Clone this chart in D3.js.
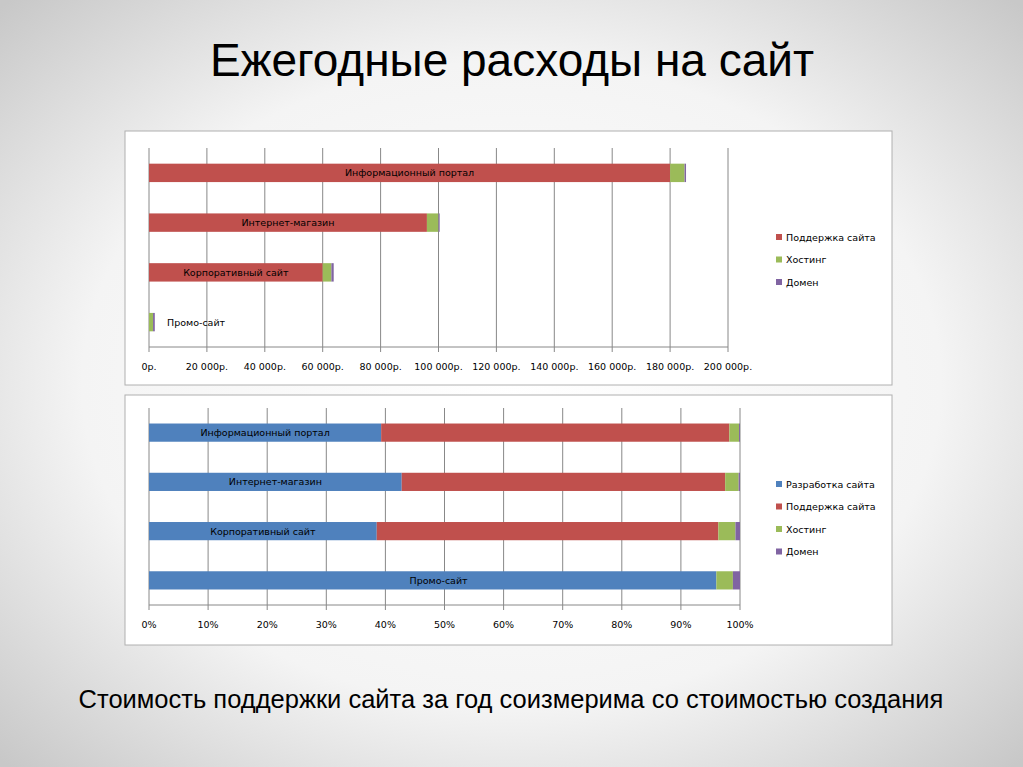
<!DOCTYPE html>
<html><head><meta charset="utf-8">
<script src="https://cdn.jsdelivr.net/npm/d3@7"></script>
<style>body{margin:0;}</style></head><body>
<script>
const categories = ["Информационный портал","Интернет-магазин","Корпоративный сайт","Промо-сайт"];
const development = [120000, 75000, 40000, 48000];
const support = [180000, 96000, 60000, 0];
const hosting = [5000, 4000, 3000, 1400];
const domain = [500, 400, 800, 600];
const topTicks = [0,20000,40000,60000,80000,100000,120000,140000,160000,180000,200000];
const pctTicks = [0,0.1,0.2,0.3,0.4,0.5,0.6,0.7,0.8,0.9,1];
const colors = {dev:"#4f81bd", sup:"#c0504d", host:"#9bbb59", dom:"#8064a2"};

const W=1023,H=767;
const svg=d3.select("body").append("svg").attr("width",W).attr("height",H);
const defs=svg.append("defs");
const rg=defs.append("radialGradient").attr("id","bg").attr("cx","50%").attr("cy","50%").attr("r","70%");
rg.append("stop").attr("offset","0%").attr("stop-color","#ffffff");
rg.append("stop").attr("offset","60%").attr("stop-color","#f4f4f4");
rg.append("stop").attr("offset","100%").attr("stop-color","#c8c8c8");
svg.append("rect").attr("width",W).attr("height",H).attr("fill","url(#bg)");
const F="'Liberation Sans', Arial, sans-serif";
svg.append("text").attr("x",512).attr("y",76).attr("text-anchor","middle").attr("font-family",F).attr("font-size",46).attr("fill","#000").text("Ежегодные расходы на сайт");
svg.append("text").attr("x",511).attr("y",708).attr("text-anchor","middle").attr("font-family",F).attr("font-size",25.5).attr("fill","#000").text("Стоимость поддержки сайта за год соизмерима со стоимостью создания");
const LF="'DejaVu Sans', sans-serif";

function chart(box, x, y0, y1, series, fmtTick, ticks, labelFn, legend){
  const g=svg.append("g");
  g.append("rect").attr("x",box[0]).attr("y",box[1]).attr("width",box[2]).attr("height",box[3]).attr("fill","#fff").attr("stroke","#b0b0b0");
  const y=d3.scaleBand().domain(categories).range([y0,y1]).paddingInner(0.63).paddingOuter(0.315);
  ticks.forEach(t=>{
    g.append("line").attr("x1",x(t)).attr("x2",x(t)).attr("y1",y0).attr("y2",y1+5).attr("stroke","#888").attr("stroke-width",1);
    g.append("text").attr("x",x(t)).attr("y",y1+23).attr("text-anchor","middle").attr("font-family",LF).attr("font-size",9.5).attr("fill","#000").text(fmtTick(t));
  });
  g.append("line").attr("x1",x(ticks[0])).attr("x2",x(ticks[ticks.length-1])).attr("y1",y1).attr("y2",y1).attr("stroke","#888");
  categories.forEach((c,i)=>{
    let acc=0;
    series.forEach(s=>{
      const v=s.vals[i];
      g.append("rect").attr("x",x(acc)).attr("y",y(c)).attr("width",Math.max(0,x(acc+v)-x(acc))).attr("height",y.bandwidth()).attr("fill",s.color);
      acc+=v;
    });
    const L=labelFn(i);
    g.append("text").attr("x",L[0]).attr("y",y(c)+y.bandwidth()/2+3.5).attr("text-anchor",L[1]).attr("font-family",LF).attr("font-size",9.5).attr("fill","#000").text(c);
  });
  legend.items.forEach((s,k)=>{
    const ly=legend.y+k*legend.step;
    g.append("rect").attr("x",776).attr("y",ly-3).attr("width",6).attr("height",6).attr("fill",s.color);
    g.append("text").attr("x",786).attr("y",ly+3.5).attr("font-family",LF).attr("font-size",9.5).attr("fill","#000").text(s.name);
  });
}

const x1=d3.scaleLinear().domain([0,200000]).range([149,728]);
const fmtR=t=>t===0?"0р.":d3.format(",")(t).replace(",","\u00a0")+"р.";
const s1=[{name:"Поддержка сайта",vals:support,color:colors.sup},{name:"Хостинг",vals:hosting,color:colors.host},{name:"Домен",vals:domain,color:colors.dom}];
chart([125,131,767,254],x1,148,347,s1,fmtR,topTicks,
  i=> i===3 ? [167,"start"] : [x1(support[i]/2),"middle"],
  {items:s1,y:237,step:22.5});

const totals=categories.map((c,i)=>development[i]+support[i]+hosting[i]+domain[i]);
const pct=a=>a.map((v,i)=>v/totals[i]);
const x2=d3.scaleLinear().domain([0,1]).range([149,740]);
const s2=[{name:"Разработка сайта",vals:pct(development),color:colors.dev},{name:"Поддержка сайта",vals:pct(support),color:colors.sup},{name:"Хостинг",vals:pct(hosting),color:colors.host},{name:"Домен",vals:pct(domain),color:colors.dom}];
chart([125,395,767,250],x2,408,605,s2,d3.format(".0%"),pctTicks,
  i=> i===3 ? [x2(0.49),"middle"] : [x2(development[i]/totals[i]/2),"middle"],
  {items:s2,y:484,step:22.5});
</script></body></html>
